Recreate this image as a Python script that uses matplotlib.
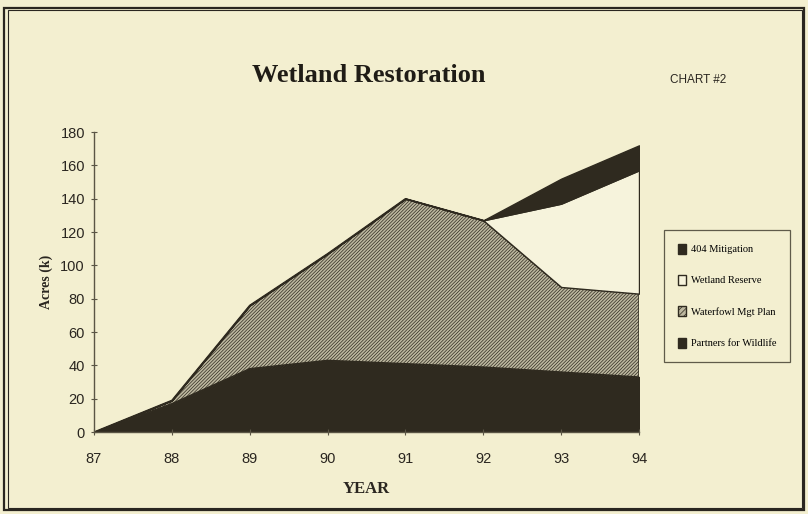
import matplotlib
matplotlib.use('Agg')
import matplotlib.pyplot as plt
from matplotlib.patches import Patch, Rectangle

years = [87, 88, 89, 90, 91, 92, 93, 94]
partners = [0, 17, 38, 43, 41, 39, 36, 33]
waterfowl = [0, 2, 38, 64, 99, 88, 51, 50]
reserve = [0, 0, 0, 0, 0, 0, 50, 74]
mitigation = [0, 0, 0, 0, 0, 0, 15, 15]
series_names = ['Partners for Wildlife', 'Waterfowl Mgt Plan', 'Wetland Reserve', '404 Mitigation']
y_ticks = [0, 20, 40, 60, 80, 100, 120, 140, 160, 180]

bg = '#f3efd0'
dark = '#2f2a1f'
plt.rcParams['hatch.linewidth'] = 0.5

fig = plt.figure(figsize=(8.08, 5.14), dpi=100, facecolor=bg)
ax = fig.add_axes([94/808, 1-432/514, (639-94)/808, (432-132)/514])
ax.set_facecolor(bg)

polys = ax.stackplot(years, partners, waterfowl, reserve, mitigation,
                     colors=[dark, '#bdb8a0', '#f6f3dc', dark],
                     edgecolor=dark, linewidth=1.0,
                     hatch=[None, '//////////', None, None])

ax.set_xlim(87, 94)
ax.set_ylim(0, 180)
ax.set_xticks(years)
ax.set_yticks(y_ticks)
ax.spines['top'].set_visible(False)
ax.spines['right'].set_visible(False)
for s in ['left', 'bottom']:
    ax.spines[s].set_color('#5a5545')
    ax.spines[s].set_linewidth(1.0)
ax.tick_params(axis='both', direction='inout', length=5, color='#5a5545',
               labelsize=10.5, labelcolor='#2a2620')
ax.tick_params(axis='x', pad=12)
ax.tick_params(axis='y', pad=4)
for lbl in ax.get_xticklabels() + ax.get_yticklabels():
    lbl.set_family('Liberation Sans')

ax.set_xlabel('YEAR', family='Liberation Serif', fontweight='bold', fontsize=12,
              color='#2a2620', labelpad=11)
ax.set_ylabel('Acres (k)', family='Liberation Serif', fontweight='bold', fontsize=10,
              color='#2a2620', labelpad=5)

fig.text(369/808, 1-75/514, 'Wetland Restoration', family='Liberation Serif',
         fontweight='bold', fontsize=19, ha='center', va='center', color='#1f1c16')
fig.text(698/808, 1-80/514, 'CHART #2', family='Liberation Sans', fontsize=8.5,
         ha='center', va='center', color='#2a2620')

handles = [Patch(facecolor=dark, edgecolor=dark),
           Patch(facecolor='#f6f3dc', edgecolor=dark),
           Patch(facecolor='#bdb8a0', edgecolor=dark, hatch='//////'),
           Patch(facecolor=dark, edgecolor=dark)]
labels = [series_names[3], series_names[2], series_names[1], series_names[0]]
leg = fig.legend(handles, labels, loc='upper left',
                 bbox_to_anchor=(664/808, 1-230/514), borderaxespad=0,
                 prop={'family': 'Liberation Serif', 'size': 7.5},
                 handlelength=0.8, handleheight=1.1, handletextpad=0.5,
                 labelspacing=2.0, borderpad=1.3, fancybox=False,
                 frameon=True, edgecolor='#3a3628', facecolor=bg)
leg.get_frame().set_linewidth(0.9)

fig.patches.append(Rectangle((4/808, 4/514), 800/808, 502/514, transform=fig.transFigure,
                             fill=False, edgecolor='#2a2620', linewidth=1.6))
fig.patches.append(Rectangle((8/808, 6/514), 794/808, 498/514, transform=fig.transFigure,
                             fill=False, edgecolor='#2a2620', linewidth=0.8))

fig.savefig('out.png', dpi=100, facecolor=bg)
